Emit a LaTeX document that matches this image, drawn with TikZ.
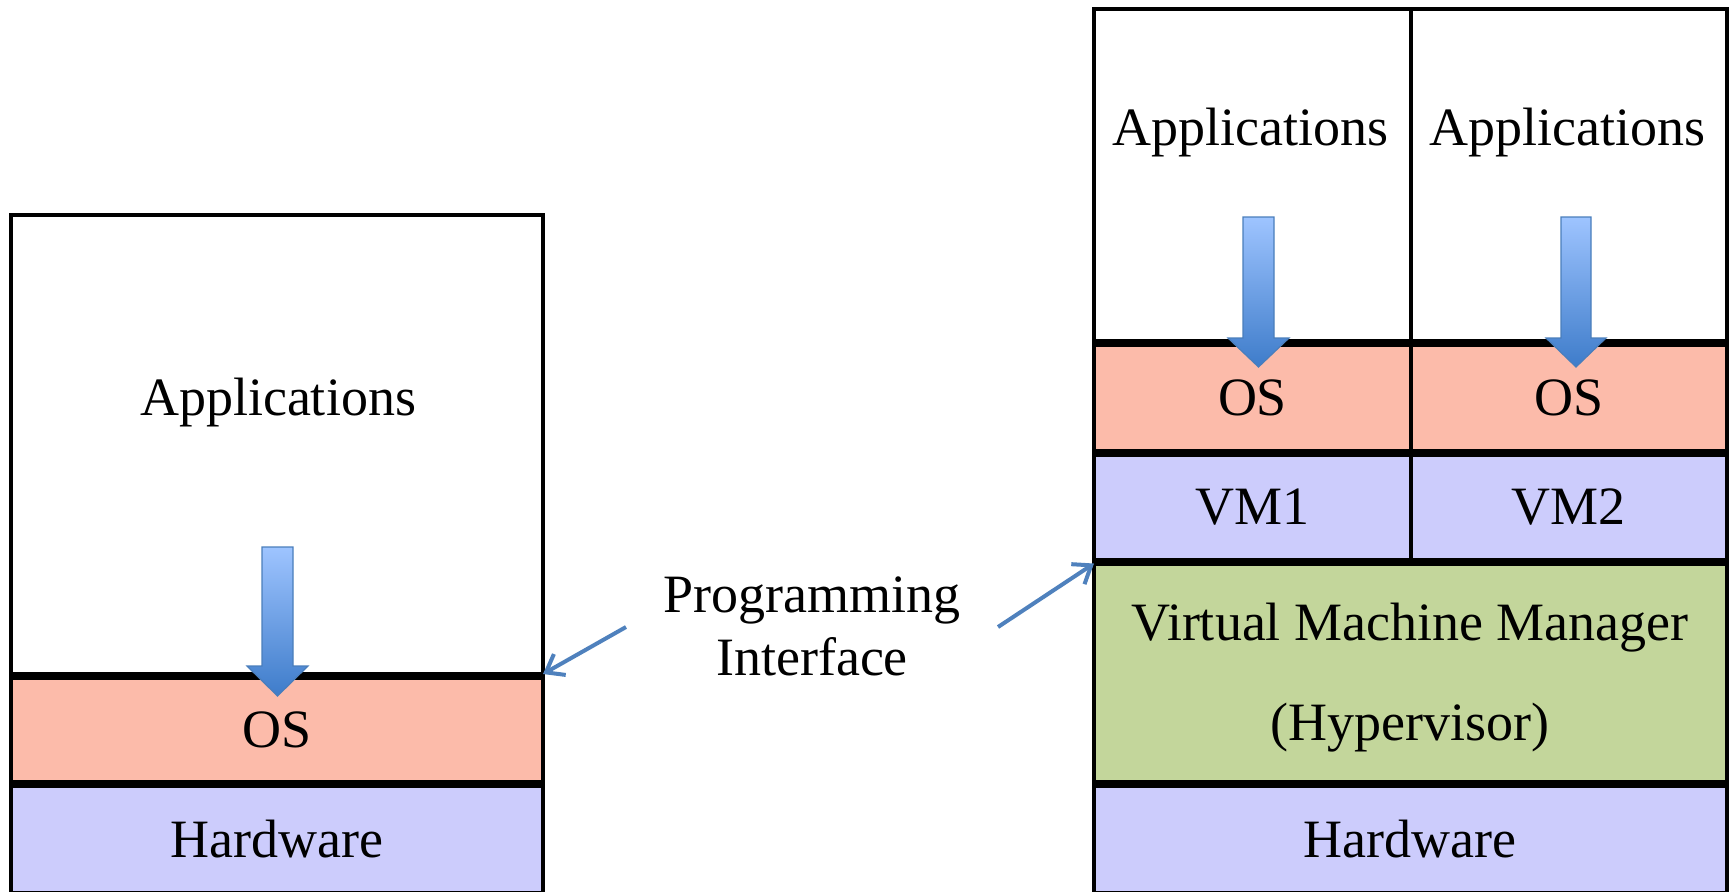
\documentclass[tikz,border=0pt]{standalone}
\usepackage{fontspec}
\setmainfont{Liberation Serif}
\usetikzlibrary{arrows.meta}
\definecolor{osc}{RGB}{252,187,170}
\definecolor{hwc}{RGB}{204,204,252}
\definecolor{vmmc}{RGB}{195,214,155}
\definecolor{blk}{RGB}{79,129,189}
\definecolor{arrtop}{RGB}{158,196,255}
\definecolor{arrbot}{RGB}{62,124,202}
\definecolor{arredge}{RGB}{74,126,187}
\begin{document}
\begin{tikzpicture}[x=0.5pt,y=-0.5pt,
  layer/.style={draw=black, line width=2pt, inner sep=0pt, outer sep=0pt, font=\fontsize{27}{32}\selectfont},
  lbl/.style={font=\fontsize{27}{32}\selectfont, inner sep=0pt},
  blockarrow/.style={top color=arrtop, bottom color=arrbot, draw=arredge, line width=0.6pt},
  link/.style={draw=blk, line width=2pt, -{Straight Barb[length=8pt,width=12pt]}}]
\useasboundingbox (0,0) rectangle (1732,891);
% left stack
\node[layer, minimum width=266pt, minimum height=229.5pt] (lapp) at (277,444.5) {};
\node[layer, fill=osc, minimum width=266pt, minimum height=52pt] (los) at (277,730) {OS};
\node[layer, fill=hwc, minimum width=266pt, minimum height=53.5pt] (lhw) at (277,839.5) {Hardware};
% right stack
\node[layer, minimum width=158.5pt, minimum height=166pt] (rapp1) at (1252.5,174.5) {};
\node[layer, minimum width=157.75pt, minimum height=166pt] (rapp2) at (1568.75,174.5) {};
\node[layer, fill=osc, minimum width=158.5pt, minimum height=53.25pt] (ros1) at (1252.5,397.75) {OS};
\node[layer, fill=osc, minimum width=157.75pt, minimum height=53.25pt] (ros2) at (1568.75,397.75) {OS};
\node[layer, fill=hwc, minimum width=158.5pt, minimum height=52.25pt] (rvm1) at (1252.5,507.25) {VM1};
\node[layer, fill=hwc, minimum width=157.75pt, minimum height=52.25pt] (rvm2) at (1568.75,507.25) {VM2};
\node[layer, fill=vmmc, minimum width=316.25pt, minimum height=109.25pt] (rvmm) at (1410.25,672.75) {};
\node[layer, fill=hwc, minimum width=316.25pt, minimum height=53.5pt] (rhw) at (1410.25,839.5) {Hardware};
% block arrows
\path[blockarrow] (262,547) -- (293,547) -- (293,666) -- (308,666) -- (277.5,696) -- (247,666) -- (262,666) -- cycle;
\path[blockarrow] (1243,217) -- (1274,217) -- (1274,338) -- (1289,338) -- (1258.5,367) -- (1228,338) -- (1243,338) -- cycle;
\path[blockarrow] (1561,217) -- (1591,217) -- (1591,338) -- (1606,338) -- (1576,367) -- (1546,338) -- (1561,338) -- cycle;
% texts
\node[lbl, anchor=base] (lapptxt) at (278,415) {Applications};
\node[lbl, anchor=base] (rapptxt1) at (1250.5,145) {Applications};
\node[lbl, anchor=base] (rapptxt2) at (1567.5,145) {Applications};
\node[lbl, anchor=base] (vmmtxt1) at (1410,640) {Virtual Machine Manager};
\node[lbl, anchor=base] (vmmtxt2) at (1410,740) {(Hypervisor)};
\node[lbl, align=center, font=\fontsize{27}{31.5}\selectfont] (pi) at (812,626) {Programming\\Interface};
% connectors
\coordinate (pil) at (626,627);
\coordinate (pir) at (998,627);
\draw[link] (pil) -- (lapp.south east);
\draw[link] (pir) -- (rvmm.north west);
\end{tikzpicture}
\end{document}
